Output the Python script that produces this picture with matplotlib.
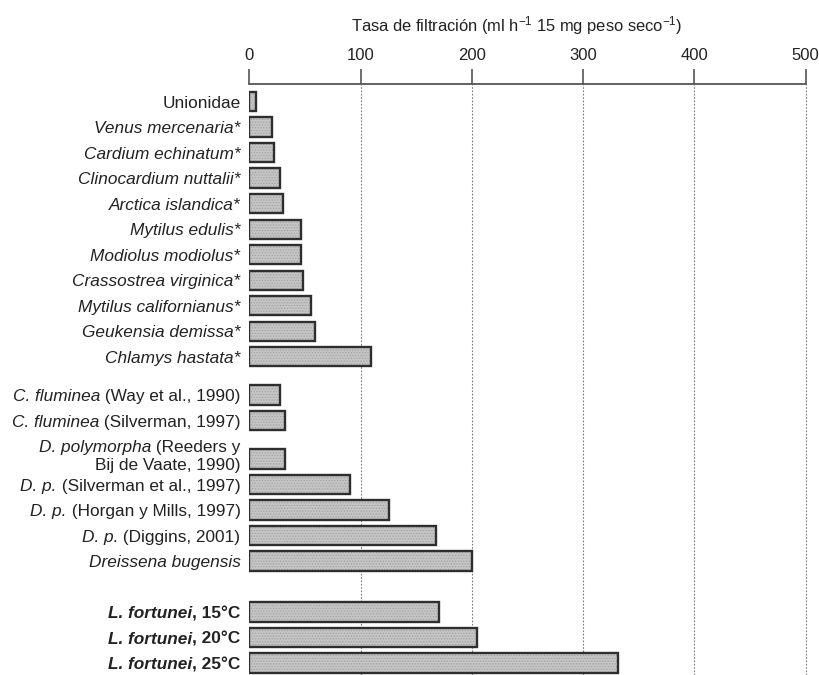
import matplotlib
matplotlib.use("Agg")
import matplotlib.pyplot as plt
from matplotlib.transforms import ScaledTranslation

plt.rcParams["font.family"] = ["Liberation Sans", "DejaVu Sans"]
plt.rcParams["mathtext.fontset"] = "custom"
plt.rcParams["mathtext.rm"] = "Liberation Sans"
plt.rcParams["mathtext.it"] = "Liberation Sans:italic"
plt.rcParams["hatch.linewidth"] = 0.5

# each label is a list of lines, each line a list of (text, style) pieces
# style: "r" regular, "i" italic, "b" bold, "bi" bold italic
labels = [
    [[("Unionidae", "r")]],
    [[("Venus mercenaria*", "i")]],
    [[("Cardium echinatum*", "i")]],
    [[("Clinocardium nuttalii*", "i")]],
    [[("Arctica islandica*", "i")]],
    [[("Mytilus edulis*", "i")]],
    [[("Modiolus modiolus*", "i")]],
    [[("Crassostrea virginica*", "i")]],
    [[("Mytilus californianus*", "i")]],
    [[("Geukensia demissa*", "i")]],
    [[("Chlamys hastata*", "i")]],
    [[("C. fluminea", "i"), (" (Way et al., 1990)", "r")]],
    [[("C. fluminea", "i"), (" (Silverman, 1997)", "r")]],
    [[("D. polymorpha", "i"), (" (Reeders y", "r")],
     [("Bij de Vaate, 1990)", "r")]],
    [[("D. p.", "i"), (" (Silverman et al., 1997)", "r")]],
    [[("D. p.", "i"), (" (Horgan y Mills, 1997)", "r")]],
    [[("D. p.", "i"), (" (Diggins, 2001)", "r")]],
    [[("Dreissena bugensis", "i")]],
    [[("L. fortunei", "bi"), (", 15°C", "b")]],
    [[("L. fortunei", "bi"), (", 20°C", "b")]],
    [[("L. fortunei", "bi"), (", 25°C", "b")]],
]
rates = [6, 20, 22, 27, 30, 46, 46, 48, 55, 59, 109,
         27, 32, 32, 90, 125, 168, 200,
         170, 205, 331]
xticks = [0, 100, 200, 300, 400, 500]

# extra vertical space (in rows) before each bar, to separate the groups
extra_gap = [0] * 11 + [0.5, 0, 0.5, 0, 0, 0, 0, 1, 0, 0]
ypos = []
y = 0.0
for i, g in enumerate(extra_gap):
    y += g + (1 if i else 0)
    ypos.append(y)

fig = plt.figure(figsize=(8.2, 6.75), dpi=100)
ax = fig.add_axes([249.5 / 820, 0, (805.5 - 249.5) / 820, (675 - 84) / 675])

for t in xticks[1:]:
    ax.axvline(t, color="#7a7a7a", lw=0.8, ls=(0, (1.5, 1.5)), zorder=1, clip_on=False)

ax.barh(ypos, rates, height=0.76, color="#c4c4c4", hatch="......",
        edgecolor="#a0a0a0", linewidth=0, zorder=2)
ax.barh(ypos, rates, height=0.76, fill=False, edgecolor="#2e2e2e",
        linewidth=1.7, zorder=3)

ax.set_xlim(0, 500)
ax.set_ylim(ypos[-1] + 0.47, -0.69)
ax.set_yticks([])
ax.set_xticks(xticks)
ax.xaxis.tick_top()
ax.xaxis.set_label_position("top")
ax.tick_params(axis="x", direction="out", length=11, width=1.2, color="#555555",
               pad=4, labelsize=12, labelcolor="#222222")
for side in ["left", "right", "bottom"]:
    ax.spines[side].set_visible(False)
ax.spines["top"].set_color("#555555")
ax.spines["top"].set_linewidth(1.3)
ax.set_xlabel("Tasa de filtración (ml h$^{-1}$ 15 mg peso seco$^{-1}$)",
              fontsize=11.9, labelpad=12, color="#222222")
ax.xaxis.label.set_x(0.481)

# y labels built piece by piece so italic/bold parts sit on one baseline
fs = 12.4
styles = {"r": ("normal", "normal"), "i": ("italic", "normal"),
          "b": ("normal", "bold"), "bi": ("italic", "bold")}
renderer = fig.canvas.get_renderer()
for yb, lines in zip(ypos, labels):
    n = len(lines)
    for k, pieces in enumerate(lines):
        yl = yb + (k - (n - 1) / 2) * 0.72 - (n - 1) * 0.15
        dx = -6.5
        for text, st in reversed(pieces):
            fstyle, fweight = styles[st]
            off = ScaledTranslation(dx / 72, -0.358 * fs / 72, fig.dpi_scale_trans)
            t = ax.text(0, yl, text, transform=ax.get_yaxis_transform() + off,
                        ha="right", va="baseline", fontsize=fs, color="#222222",
                        fontstyle=fstyle, fontweight=fweight)
            dx -= t.get_window_extent(renderer).width * 72 / fig.dpi

fig.savefig("out.png", dpi=100)
